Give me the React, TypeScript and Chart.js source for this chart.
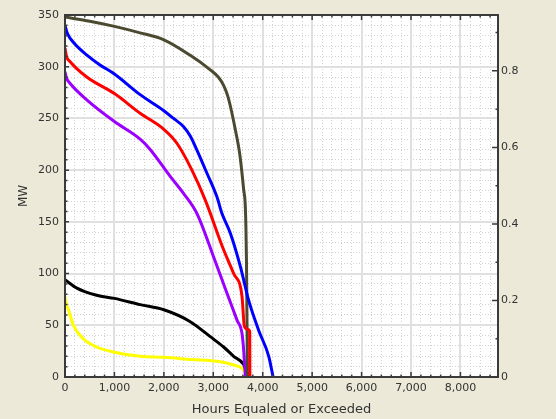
import React, { useEffect, useRef } from "react";
import { Chart, registerables } from "chart.js";

Chart.register(...registerables);

// ---- Data (hours equaled or exceeded vs MW) ----
const blueHours = [0, 50, 200, 450, 700, 1000, 1520, 2000, 2196, 2400, 2534, 2635, 2872, 3075, 3176, 3345, 3547, 3716, 3919, 4122, 4210];
const blueMW = [340, 332, 322, 311, 302, 293, 273, 257.5, 250, 242, 233, 223, 197, 174, 158, 139, 107, 74, 45, 20, 0];

const oliveHours = [0, 500, 1000, 1500, 2000, 2534, 2939, 3100, 3209, 3290, 3345, 3446, 3534, 3581, 3615, 3645, 3660, 3672, 3682, 3690];
const oliveMW = [348, 344, 339, 333, 326, 311, 297, 290, 282, 272, 262, 239, 216, 197, 181, 168, 145, 110, 55, 0];

const redHours = [0, 30, 100, 440, 1000, 1520, 2000, 2264, 2568, 2838, 3209, 3412, 3581, 3629, 3700, 3737, 3740];
const redMW = [318, 310, 305, 290, 274, 255, 239.5, 226, 200, 171, 123, 100, 78, 49, 46, 44, 0];

const purpleHours = [0, 30, 100, 440, 1000, 1520, 1723, 2128, 2398, 2670, 3007, 3277, 3480, 3581, 3615, 3640, 3650];
const purpleMW = [295, 289, 284, 268, 247, 230, 220, 194, 177.5, 158, 116, 81, 55, 42, 26, 8, 0];

const blackHours = [0, 240, 640, 1000, 1520, 2000, 2534, 2939, 3209, 3412, 3615, 3683, 3720];
const blackMW = [94, 86, 79, 76, 70, 65, 53.5, 39, 29, 20, 12, 3.5, 0];

const yellowHours = [0, 20, 70, 170, 370, 640, 1000, 1520, 2000, 2534, 3142, 3412, 3581, 3683, 3720];
const yellowMW = [78, 72, 65, 50, 37, 29, 24, 20, 19, 17, 14.8, 11.6, 8.4, 2, 0];

const xTickValues = [0, 1000, 2000, 3000, 4000, 5000, 6000, 7000, 8000];
const xTickLabels = ["0", "1,000", "2,000", "3,000", "4,000", "5,000", "6,000", "7,000", "8,000"];
const y2TickValues = [0, 0.2, 0.4, 0.6, 0.8];
const y2TickLabels = ["0", "0.2", "0.4", "0.6", "0.8"];

const xMax = 8760;
const yMax = 350;
const y2Max = 0.946;

const pts = (xs: number[], ys: number[]) => xs.map((x, i) => ({ x, y: ys[i] }));

const FONT = "DejaVu Sans";

const range = (from: number, to: number, step: number) => {
  const out: number[] = [];
  for (let v = from; v <= to + 1e-9; v += step) out.push(v);
  return out;
};

const framePlugin = {
  id: "frame",
  beforeDraw(chart: any) {
    const { ctx, chartArea: a } = chart;
    ctx.save();
    ctx.fillStyle = "#ECE9D8";
    ctx.fillRect(0, 0, chart.width, chart.height);
    ctx.fillStyle = "#ffffff";
    ctx.fillRect(a.left, a.top, a.right - a.left, a.bottom - a.top);
    ctx.restore();
  },
  afterDraw(chart: any) {
    const { ctx, chartArea: a, scales } = chart;
    const x = scales.x, y = scales.y, y2 = scales.y2;
    ctx.save();
    ctx.strokeStyle = "#3a3a3a";
    ctx.lineWidth = 2;
    ctx.strokeRect(a.left, a.top, a.right - a.left, a.bottom - a.top);
    ctx.lineWidth = 1.5;
    ctx.beginPath();
    for (const v of range(0, xMax, 200)) {
      const px = x.getPixelForValue(v);
      const len = v % 1000 === 0 ? 5 : 2.5;
      ctx.moveTo(px, a.bottom);
      ctx.lineTo(px, a.bottom - len);
      ctx.moveTo(px, a.top);
      ctx.lineTo(px, a.top + len);
    }
    for (const v of range(0, yMax, 10)) {
      const py = y.getPixelForValue(v);
      const len = v % 50 === 0 ? 4 : 2.5;
      ctx.moveTo(a.left, py);
      ctx.lineTo(a.left + len, py);
    }
    for (let i = 0; i <= 9; i++) {
      const py = y2.getPixelForValue(i / 10);
      const len = i % 2 === 0 ? 6 : 2.5;
      ctx.moveTo(a.right, py);
      ctx.lineTo(a.right - len, py);
    }
    ctx.stroke();
    ctx.restore();
  },
};

export default function App() {
  const ref = useRef<HTMLCanvasElement | null>(null);

  useEffect(() => {
    document.body.style.margin = "0";
    const canvas = ref.current!;
    const line = (data: any, color: string) => ({
      data,
      borderColor: color,
      backgroundColor: color,
      borderWidth: 3,
      pointRadius: 0,
      fill: false,
      cubicInterpolationMode: "monotone" as const,
      xAxisID: "x",
      yAxisID: "y",
    });
    const setTicks = (vals: number[]) => (s: any) => {
      s.ticks = vals.map((value) => ({ value }));
    };
    const chart = new Chart(canvas, {
      type: "line",
      data: {
        datasets: [
          line(pts(blueHours, blueMW), "#0000FF"),
          line(pts(redHours, redMW), "#FF0000"),
          line(pts(oliveHours, oliveMW), "#4B4A30"),
          line(pts(purpleHours, purpleMW), "#9B00FF"),
          line(pts(blackHours, blackMW), "#000000"),
          line(pts(yellowHours, yellowMW), "#FFFF00"),
        ],
      },
      plugins: [framePlugin],
      options: {
        animation: false,
        responsive: false,
        devicePixelRatio: 1,
        layout: { padding: { top: 15, left: 0, right: 0, bottom: 0 } },
        plugins: { legend: { display: false }, tooltip: { enabled: false } },
        scales: {
          xMinor: {
            type: "linear",
            position: "bottom",
            min: 0,
            max: xMax,
            afterBuildTicks: setTicks(range(200, xMax, 200).filter((v) => v % 1000 !== 0)),
            ticks: { display: false, autoSkip: false },
            border: { display: false, dash: [1, 2] },
            grid: { drawTicks: false, color: "#d2d2d2", lineWidth: 1 },
            afterFit: (s: any) => { s.height = 0; },
          },
          yMinor: {
            type: "linear",
            position: "left",
            min: 0,
            max: yMax,
            afterBuildTicks: setTicks(range(10, yMax, 10).filter((v) => v % 50 !== 0)),
            ticks: { display: false, autoSkip: false },
            border: { display: false, dash: [1, 2] },
            grid: { drawTicks: false, color: "#d2d2d2", lineWidth: 1 },
            afterFit: (s: any) => { s.width = 0; },
          },
          x: {
            type: "linear",
            position: "bottom",
            min: 0,
            max: xMax,
            afterBuildTicks: setTicks(xTickValues),
            ticks: {
              padding: 5,
              autoSkip: false,
              maxRotation: 0,
              minRotation: 0,
              color: "#333333",
              font: { family: FONT, size: 11 },
              callback: (v: any, i: number) => xTickLabels[i] ?? "",
            },
            grid: { drawTicks: false, color: "#e0e0e0", lineWidth: 2 },
            border: { display: false },
            title: {
              display: true,
              text: "Hours Equaled or Exceeded",
              color: "#333333",
              font: { family: FONT, size: 13 },
              padding: { top: 0, bottom: 2 },
            },
            afterFit: (s: any) => { s.height = 42; },
          },
          y: {
            type: "linear",
            position: "left",
            min: 0,
            max: yMax,
            ticks: {
              stepSize: 50,
              padding: 6,
              color: "#333333",
              font: { family: FONT, size: 11 },
            },
            grid: { drawTicks: false, color: "#e0e0e0", lineWidth: 2 },
            border: { display: false },
            title: {
              display: true,
              text: "MW",
              color: "#333333",
              font: { family: FONT, size: 12 },
              padding: { top: 17, bottom: 0 },
            },
            afterFit: (s: any) => { s.width = 65; },
          },
          y2: {
            type: "linear",
            position: "right",
            min: 0,
            max: y2Max,
            afterBuildTicks: setTicks(y2TickValues),
            ticks: {
              padding: 3,
              autoSkip: false,
              color: "#333333",
              font: { family: FONT, size: 11 },
              callback: (v: any, i: number) => y2TickLabels[i] ?? "",
            },
            grid: { drawOnChartArea: false, drawTicks: false },
            border: { display: false },
            afterFit: (s: any) => { s.width = 58; },
          },
        },
      } as any,
    });
    return () => chart.destroy();
  }, []);

  return <canvas ref={ref} width={556} height={419} style={{ display: "block" }} />;
}
